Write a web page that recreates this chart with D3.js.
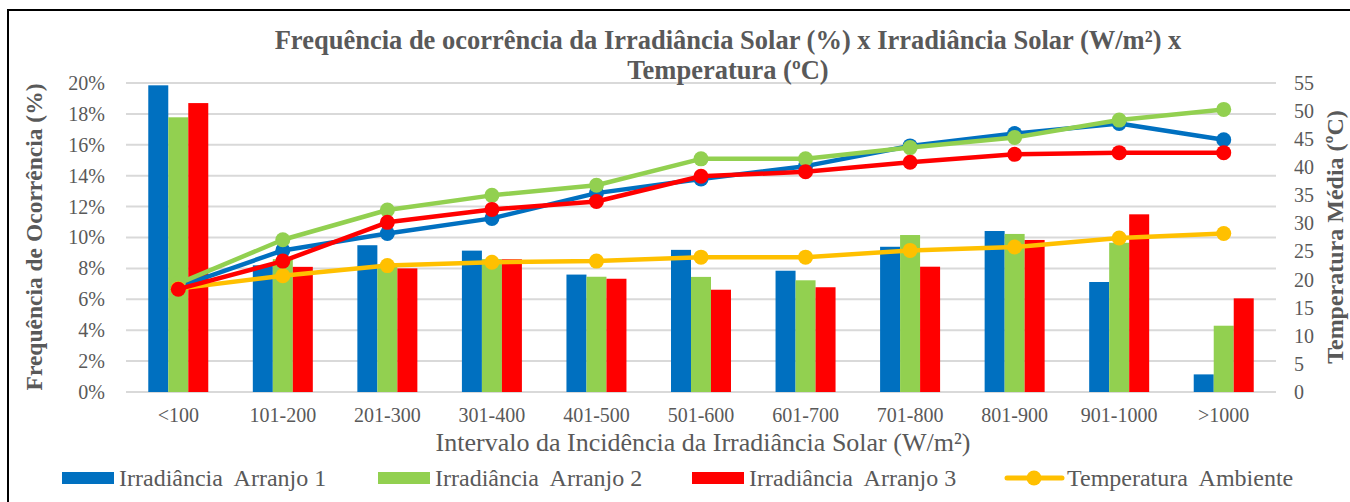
<!DOCTYPE html>
<html>
<head>
<meta charset="utf-8">
<script src="https://cdn.jsdelivr.net/npm/d3@7"></script>
<style>
  html, body { margin: 0; padding: 0; background: #fff; }
  svg text { font-family: "Liberation Serif", "DejaVu Serif", "Times New Roman", serif !important; fill: #595959; }
</style>
</head>
<body>
<svg id="chart" width="1350" height="502"></svg>
<script>
// ---- data ----
const categories = ["<100","101-200","201-300","301-400","401-500","501-600","601-700","701-800","801-900","901-1000",">1000"];
const freqArranjo1 = [19.85, 8.2, 9.5, 9.15, 7.6, 9.2, 7.85, 9.4, 10.42, 7.12, 1.14];
const freqArranjo2 = [17.78, 8.6, 8.2, 8.6, 7.46, 7.45, 7.23, 10.16, 10.23, 9.66, 4.29];
const freqArranjo3 = [18.7, 8.1, 8.0, 8.59, 7.33, 6.62, 6.78, 8.11, 9.84, 11.5, 6.06];
const tempArranjo1 = [18.7, 25.2, 28.2, 30.9, 35.4, 37.9, 40.2, 43.8, 46.0, 47.8, 44.9];
const tempArranjo2 = [19.3, 27.1, 32.4, 35.0, 36.8, 41.5, 41.5, 43.5, 45.3, 48.4, 50.3];
const tempArranjo3 = [18.3, 23.3, 30.2, 32.5, 33.9, 38.4, 39.2, 40.9, 42.3, 42.6, 42.6];
const tempAmbiente = [18.4, 20.7, 22.5, 23.1, 23.3, 24.0, 24.0, 25.2, 25.8, 27.4, 28.2];
const leftTicks = [0, 2, 4, 6, 8, 10, 12, 14, 16, 18, 20];
const rightTicks = [0, 5, 10, 15, 20, 25, 30, 35, 40, 45, 50, 55];
const titleLines = ["Frequência de ocorrência da Irradiância Solar (%) x Irradiância Solar (W/m²) x", "Temperatura (ºC)"];
const leftAxisTitle = "Frequência de Ocorrência (%)";
const rightAxisTitle = "Temperatura Média (ºC)";
const xAxisTitle = "Intervalo da Incidência da Irradiância Solar (W/m²)";
const legendLabels = ["Irradiância  Arranjo 1", "Irradiância  Arranjo 2", "Irradiância  Arranjo 3", "Temperatura  Ambiente"];

const colors = { blue: "#0070C0", green: "#92D050", red: "#FF0000", yellow: "#FFC000" };
const barSeries = [
  { values: freqArranjo1, color: colors.blue },
  { values: freqArranjo2, color: colors.green },
  { values: freqArranjo3, color: colors.red }
];
const lineSeries = [
  { values: tempArranjo1, color: colors.blue },
  { values: tempArranjo2, color: colors.green },
  { values: tempAmbiente, color: colors.yellow },
  { values: tempArranjo3, color: colors.red }
];

// ---- layout ----
const FONT = "'Liberation Serif', 'DejaVu Serif', serif";
const svg = d3.select("#chart");
const plot = { left: 126, right: 1276, top: 83, bottom: 392 };

// frame
svg.append("rect").attr("x", 8).attr("y", 10).attr("width", 1400).attr("height", 600)
  .attr("fill", "none").attr("stroke", "#000").attr("stroke-width", 2);

const x = d3.scaleBand().domain(categories).range([plot.left, plot.right]).padding(0);
const groupW = 60;
const xInner = d3.scaleBand().domain([0, 1, 2]).range([0, groupW]).padding(0);
const yL = d3.scaleLinear().domain([0, 20]).range([plot.bottom, plot.top]);
const yR = d3.scaleLinear().domain([0, 55]).range([plot.bottom, plot.top]);

// gridlines
svg.append("g").selectAll("line").data(leftTicks).join("line")
  .attr("x1", plot.left).attr("x2", plot.right)
  .attr("y1", d => yL(d)).attr("y2", d => yL(d))
  .attr("stroke", "#D9D9D9").attr("stroke-width", 2);

function styleAxis(g) {
  g.attr("font-family", FONT);
  g.select(".domain").remove();
  g.selectAll("text").attr("font-size", 20).attr("font-family", FONT).attr("fill", "#595959");
}

// left axis
svg.append("g").attr("transform", `translate(${plot.left},0)`)
  .call(d3.axisLeft(yL).tickValues(leftTicks).tickSize(0).tickPadding(21).tickFormat(d => d + "%"))
  .call(styleAxis);

// right axis
svg.append("g").attr("transform", `translate(${plot.right},0)`)
  .call(d3.axisRight(yR).tickValues(rightTicks).tickSize(0).tickPadding(18))
  .call(styleAxis);

// bottom axis
svg.append("g").attr("transform", `translate(0,${plot.bottom})`)
  .call(d3.axisBottom(x).tickSize(0).tickPadding(16))
  .call(styleAxis);

// bars
barSeries.forEach((s, i) => {
  svg.append("g").selectAll("rect").data(s.values).join("rect")
    .attr("x", (d, j) => x(categories[j]) + (x.bandwidth() - groupW) / 2 + xInner(i))
    .attr("width", xInner.bandwidth())
    .attr("y", d => yL(d))
    .attr("height", d => yL(0) - yL(d))
    .attr("fill", s.color);
});

// lines
const line = d3.line().x((d, j) => x(categories[j]) + x.bandwidth() / 2).y(d => yR(d));
lineSeries.forEach(s => {
  const g = svg.append("g");
  g.append("path").datum(s.values).attr("d", line)
    .attr("fill", "none").attr("stroke", s.color).attr("stroke-width", 4.5).attr("stroke-linejoin", "round");
  g.selectAll("circle").data(s.values).join("circle")
    .attr("cx", (d, j) => x(categories[j]) + x.bandwidth() / 2)
    .attr("cy", d => yR(d)).attr("r", 7.5).attr("fill", s.color);
});

// title
svg.append("g").selectAll("text").data(titleLines).join("text")
  .attr("x", 728).attr("y", (d, i) => 49 + i * 30)
  .attr("text-anchor", "middle").attr("font-size", 26.5).attr("font-weight", "bold")
  .attr("font-family", FONT)
  .text(d => d);

// axis titles
svg.append("text").attr("transform", `translate(42,237) rotate(-90)`).attr("font-family", FONT)
  .attr("text-anchor", "middle").attr("font-size", 23.5).attr("font-weight", "bold").text(leftAxisTitle);
svg.append("text").attr("transform", `translate(1343,237) rotate(-90)`).attr("font-family", FONT)
  .attr("text-anchor", "middle").attr("font-size", 24).attr("font-weight", "bold").text(rightAxisTitle);
svg.append("text").attr("x", 703).attr("y", 451).attr("font-family", FONT)
  .attr("text-anchor", "middle").attr("font-size", 26).text(xAxisTitle);

// legend
const legendX = [62, 378, 692, 1007];
const lg = svg.append("g");
legendLabels.forEach((lab, i) => {
  const lx = legendX[i];
  if (i < 3) {
    lg.append("rect").attr("x", lx).attr("y", 472).attr("width", 52).attr("height", 12).attr("fill", barSeries[i].color);
  } else {
    lg.append("line").attr("x1", lx).attr("x2", lx + 55).attr("y1", 478).attr("y2", 478)
      .attr("stroke", colors.yellow).attr("stroke-width", 5).attr("stroke-linecap", "round");
    lg.append("circle").attr("cx", lx + 27).attr("cy", 478).attr("r", 7.5).attr("fill", colors.yellow);
  }
  lg.append("text").attr("x", lx + (i < 3 ? 57 : 60)).attr("y", 486).attr("font-family", FONT)
    .attr("font-size", 24).style("white-space", "pre").text(lab);
});
</script>
</body>
</html>
